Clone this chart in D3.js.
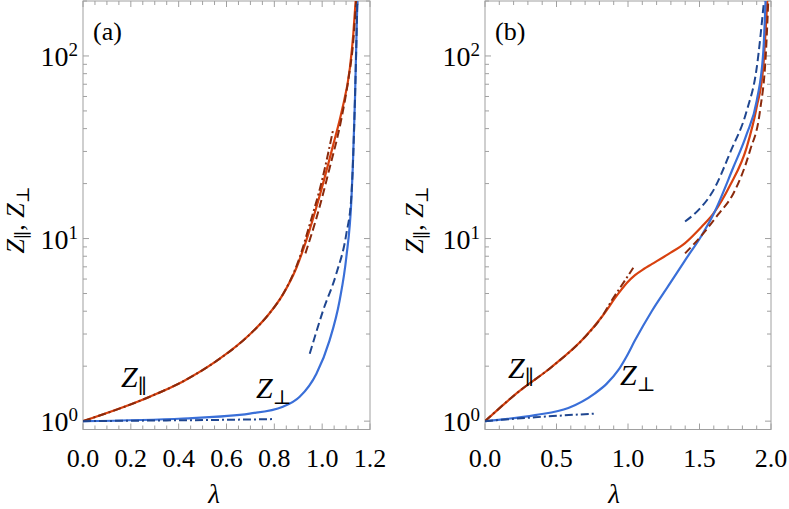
<!DOCTYPE html>
<html>
<head>
<meta charset="utf-8">
<script src="https://cdn.jsdelivr.net/npm/d3@7"></script>
<style>
  body { margin: 0; background: #fff; }
  svg { display: block; }
  text { font-family: 'Liberation Serif', 'Times New Roman', Tinos, 'DejaVu Serif', serif; }
</style>
</head>
<body>
<svg id="chart"></svg>
<script>
// ---- panel (a) data: lambda values and Z values ----
const aParLam   = [0, 0.279, 0.418, 0.557, 0.697, 0.78, 0.836, 0.892, 0.935, 0.983, 1.047, 1.082, 1.116, 1.130, 1.140];
const aParZ     = [1, 1.36, 1.65, 2.13, 2.98, 3.9, 4.95, 6.9, 9.9, 16, 32.9, 50, 86, 131, 200];
const aParSmallLam = [0, 0.279, 0.418, 0.557, 0.697, 0.78, 0.836, 0.9, 0.95, 1.0, 1.045];
const aParSmallZ   = [1, 1.36, 1.65, 2.13, 2.98, 3.9, 4.95, 7.5, 12.2, 21, 39];
const aParLargeLam = [0.93, 0.98, 1.03, 1.08, 1.11, 1.13, 1.142];
const aParLargeZ   = [8.3, 13.5, 24, 45, 75, 120, 200];

const aPerpLam  = [0, 0.418, 0.697, 0.836, 0.906, 0.976, 1.031, 1.073, 1.101, 1.122, 1.128, 1.137, 1.147];
const aPerpZ    = [1, 1.034, 1.10, 1.20, 1.36, 1.82, 2.77, 4.58, 7.9, 16.1, 24.5, 56.8, 200];
const aPerpSmallLam = [0, 0.3, 0.6, 0.794];
const aPerpSmallZ   = [1, 1.008, 1.017, 1.026];
const aPerpLargeLam = [0.948, 1.004, 1.059, 1.101, 1.122, 1.137, 1.147];
const aPerpLargeZ   = [2.34, 4.04, 6.41, 10.6, 17, 57, 200];

// ---- panel (b) data ----
const bParLam   = [0, 0.233, 0.466, 0.699, 0.816, 0.932, 0.99, 1.049, 1.11, 1.166, 1.282, 1.399, 1.515, 1.594, 1.713, 1.830, 1.900, 1.946, 1.974];
const bParZ     = [1, 1.445, 1.98, 2.89, 3.72, 4.99, 5.69, 6.30, 6.81, 7.24, 8.22, 9.44, 11.6, 13.6, 19.5, 31.6, 52.5, 87, 200];
const bParSmallLam = [0, 0.233, 0.466, 0.699, 0.816, 0.886, 0.979, 1.037];
const bParSmallZ   = [1, 1.445, 1.98, 2.89, 3.72, 4.58, 5.9, 6.92];
const bParLargeLam = [1.399, 1.515, 1.632, 1.736, 1.853, 1.923, 1.965, 1.981];
const bParLargeZ   = [8.3, 10.4, 13.6, 17.6, 30.3, 50, 106, 200];

const bPerpLam  = [0, 0.35, 0.583, 0.769, 0.85, 0.932, 0.99, 1.049, 1.166, 1.282, 1.399, 1.515, 1.594, 1.736, 1.830, 1.900, 1.946, 1.962];
const bPerpZ    = [1, 1.08, 1.18, 1.42, 1.60, 1.90, 2.26, 2.77, 4.0, 5.5, 7.6, 10.4, 13.4, 24.5, 37.3, 56.8, 105, 200];
const bPerpSmallLam = [0, 0.35, 0.769];
const bPerpSmallZ   = [1, 1.05, 1.10];
const bPerpLargeLam = [1.399, 1.510, 1.587, 1.720, 1.830, 1.900, 1.951];
const bPerpLargeZ   = [12.4, 14.8, 17.8, 30.3, 50, 86, 200];

// ---- axis ticks ----
const xTicksA = [0, 0.2, 0.4, 0.6, 0.8, 1.0, 1.2];
const xTicksB = [0, 0.5, 1.0, 1.5, 2.0];
const yTicks  = [1, 10, 100];
const yExponents = ["0", "1", "2"];

const RED = "#d8410f", DARKRED = "#8a2a0c", BLUE = "#3a6fd8", DARKBLUE = "#1f4690";
const DASH = "8,4", DASHDOT = "8,3,2,3";
const SERIF = "'Liberation Serif', 'Times New Roman', Tinos, 'DejaVu Serif', serif";

const zip = (xs, ys) => xs.map((v, i) => [v, ys[i]]);

class Panel {
    constructor(config, series) {
        this.config = config;
        this.series = series;
        this.init();
    }

    init() {
        let self = this;
        let c = self.config;
        self.svg = d3.select('#chart');
        self.g = self.svg.append('g').attr('font-family', SERIF);
        self.x = d3.scaleLinear().domain(c.xDomain).range([c.left, c.right]);
        self.y = d3.scaleLog().domain([0.9, 200]).range([c.bottom, c.top]);
        self.clipId = 'clip-' + c.tag.replace(/\W/g, '');
        self.svg.append('clipPath').attr('id', self.clipId)
            .append('rect')
            .attr('x', c.left).attr('y', c.top)
            .attr('width', c.right - c.left).attr('height', c.bottom - c.top);
    }

    render() {
        let self = this;
        let c = self.config;
        let g = self.g;
        let gray = "#a0a0a0";

        // frame
        g.append('rect')
            .attr('x', c.left).attr('y', c.top)
            .attr('width', c.right - c.left).attr('height', c.bottom - c.top)
            .attr('fill', 'none').attr('stroke', gray).attr('stroke-width', 1);

        // x ticks (bottom and top, inward)
        let xMinor = d3.range(c.xDomain[0], c.xDomain[1] + 1e-9, c.xMinorStep);
        let xt = g.append('g').attr('stroke', gray).attr('stroke-width', 1);
        xMinor.forEach(v => {
            let isMajor = c.xTicks.some(t => Math.abs(t - v) < 1e-6);
            let len = isMajor ? 6 : 4;
            let px = self.x(v);
            xt.append('line').attr('x1', px).attr('x2', px).attr('y1', c.bottom).attr('y2', c.bottom - len);
            xt.append('line').attr('x1', px).attr('x2', px).attr('y1', c.top).attr('y2', c.top + len);
        });

        // y ticks (left and right, inward)
        let yMinor = [];
        [1, 10, 100].forEach(dec => d3.range(2, 10).forEach(k => { if (k * dec <= 200) yMinor.push(k * dec); }));
        let yt = g.append('g').attr('stroke', gray).attr('stroke-width', 1);
        yMinor.concat(yTicks).forEach(v => {
            let len = yTicks.includes(v) ? 6 : 4;
            let py = self.y(v);
            yt.append('line').attr('x1', c.left).attr('x2', c.left + len).attr('y1', py).attr('y2', py);
            yt.append('line').attr('x1', c.right).attr('x2', c.right - len).attr('y1', py).attr('y2', py);
        });

        // x tick labels
        g.selectAll('.xlab')
            .data(c.xTicks)
            .enter()
            .append('text')
            .attr('x', d => self.x(d))
            .attr('y', 467)
            .attr('text-anchor', 'middle')
            .attr('font-size', 26)
            .text(d => d3.format('.1f')(d));

        // y tick labels 10^n
        yTicks.forEach((v, i) => {
            let t = g.append('text')
                .attr('x', c.left - 5)
                .attr('y', self.y(v) + 10)
                .attr('text-anchor', 'end')
                .attr('font-size', 28);
            t.append('tspan').text('10');
            t.append('tspan').attr('font-size', 19).attr('dy', -10).text(yExponents[i]);
        });

        // axis titles
        g.append('text')
            .attr('x', c.lambdaX).attr('y', 503)
            .attr('text-anchor', 'middle')
            .attr('font-size', 27).attr('font-style', 'italic')
            .text('λ');

        let yl = g.append('text')
            .attr('transform', `translate(${c.yLabelX}, 220) rotate(-90)`)
            .attr('text-anchor', 'middle')
            .attr('font-size', 26);
        yl.append('tspan').attr('font-style', 'italic').text('Z');
        yl.append('tspan').attr('font-size', 18).attr('dy', 5).text('∥');
        yl.append('tspan').attr('dy', -5).text(', ');
        yl.append('tspan').attr('font-style', 'italic').text('Z');
        yl.append('tspan').attr('font-size', 18).attr('dy', 5).text('⊥');

        // panel tag
        g.append('text')
            .attr('x', c.left + 10).attr('y', 40)
            .attr('font-size', 26)
            .text(c.tag);

        // curves
        let line = d3.line()
            .x(d => self.x(d[0]))
            .y(d => self.y(d[1]))
            .curve(d3.curveMonotoneX);

        g.append('g').attr('clip-path', `url(#${self.clipId})`)
            .selectAll('path')
            .data(self.series)
            .enter()
            .append('path')
            .attr('d', d => line(d.points))
            .attr('fill', 'none')
            .attr('stroke', d => d.color)
            .attr('stroke-width', d => d.width)
            .attr('stroke-dasharray', d => d.dash);

        // curve labels
        c.curveLabels.forEach(l => {
            let t = g.append('text')
                .attr('x', l.x).attr('y', l.y)
                .attr('font-size', 30);
            t.append('tspan').attr('font-style', 'italic').text('Z');
            t.append('tspan').attr('font-size', 20).attr('dy', 6).text(l.sub);
        });
    }
}

const svg = d3.select('#chart').attr('width', 789).attr('height', 509);

const panelA = new Panel({
    tag: '(a)', left: 83, right: 370, top: 1, bottom: 429.5,
    xDomain: [0, 1.2], xTicks: xTicksA, xMinorStep: 0.05,
    lambdaX: 214, yLabelX: 24,
    curveLabels: [{ x: 121, y: 387, sub: '∥' }, { x: 256, y: 398, sub: '⊥' }]
}, [
    { points: zip(aParLam, aParZ), color: RED, width: 2.2, dash: null },
    { points: zip(aPerpLam, aPerpZ), color: BLUE, width: 2.2, dash: null },
    { points: zip(aParSmallLam, aParSmallZ), color: DARKRED, width: 2, dash: DASHDOT },
    { points: zip(aParLargeLam, aParLargeZ), color: DARKRED, width: 2, dash: DASH },
    { points: zip(aPerpSmallLam, aPerpSmallZ), color: DARKBLUE, width: 2, dash: DASHDOT },
    { points: zip(aPerpLargeLam, aPerpLargeZ), color: DARKBLUE, width: 2, dash: DASH }
]);
panelA.render();

const panelB = new Panel({
    tag: '(b)', left: 485, right: 771, top: 1, bottom: 429.5,
    xDomain: [0, 2], xTicks: xTicksB, xMinorStep: 0.1,
    lambdaX: 614, yLabelX: 423,
    curveLabels: [{ x: 508, y: 378, sub: '∥' }, { x: 620, y: 385, sub: '⊥' }]
}, [
    { points: zip(bParLam, bParZ), color: RED, width: 2.2, dash: null },
    { points: zip(bPerpLam, bPerpZ), color: BLUE, width: 2.2, dash: null },
    { points: zip(bParSmallLam, bParSmallZ), color: DARKRED, width: 2, dash: DASHDOT },
    { points: zip(bParLargeLam, bParLargeZ), color: DARKRED, width: 2, dash: DASH },
    { points: zip(bPerpSmallLam, bPerpSmallZ), color: DARKBLUE, width: 2, dash: DASHDOT },
    { points: zip(bPerpLargeLam, bPerpLargeZ), color: DARKBLUE, width: 2, dash: DASH }
]);
panelB.render();
</script>
</body>
</html>
